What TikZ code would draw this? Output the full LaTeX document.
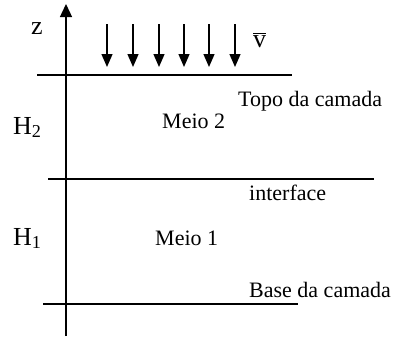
\documentclass[tikz,border=0pt]{standalone}
\usepackage{fontspec}
\setmainfont{Liberation Serif}
\usetikzlibrary{arrows.meta}
\tikzset{
  ln/.style={line width=1.3pt},
  axisarrow/.style={ln,-{Triangle[width=12pt,length=13pt]}},
  flowarrow/.style={ln,-{Triangle[width=11pt,length=13pt]}},
  lbl/.style={anchor=base west,inner sep=0pt,font=\fontsize{22}{26}\selectfont},
  biglbl/.style={anchor=base west,inner sep=0pt,font=\fontsize{26}{30}\selectfont}
}
\begin{document}
\begin{tikzpicture}[x=1pt,y=-1pt]
\useasboundingbox (0,0) rectangle (394,338);
% axis
\coordinate (ab) at (66,336);
\coordinate (at) at (66,4);
\draw[axisarrow] (ab) -- (at);
% layer lines
\coordinate (t1) at (37,75);  \coordinate (t2) at (292,75);
\coordinate (m1) at (48,179); \coordinate (m2) at (374,179);
\coordinate (b1) at (43,304); \coordinate (b2) at (298,304);
\draw[ln] (t1) -- (t2);
\draw[ln] (m1) -- (m2);
\draw[ln] (b1) -- (b2);
% velocity arrows
\foreach \i/\x in {1/107,2/133,3/159,4/184,5/209,6/235}{
  \coordinate (vs\i) at (\x,24);
  \coordinate (ve\i) at (\x,67);
  \draw[flowarrow] (vs\i) -- (ve\i);
}
% labels
\node[biglbl] (z) at (31,34) {z};
\node[biglbl] (v) at (253,47) {$\overline{\mbox{v}}$};
\node[biglbl] (h2) at (13,134) {H\textsubscript{2}};
\node[biglbl] (h1) at (13,245) {H\textsubscript{1}};
\node[lbl] (meio2) at (162,128) {Meio 2};
\node[lbl] (topo) at (238,106) {Topo da camada};
\node[lbl] (inter) at (249,200) {interface};
\node[lbl] (meio1) at (155,245) {Meio 1};
\node[lbl] (base) at (249,297) {Base da camada};
\end{tikzpicture}
\end{document}
